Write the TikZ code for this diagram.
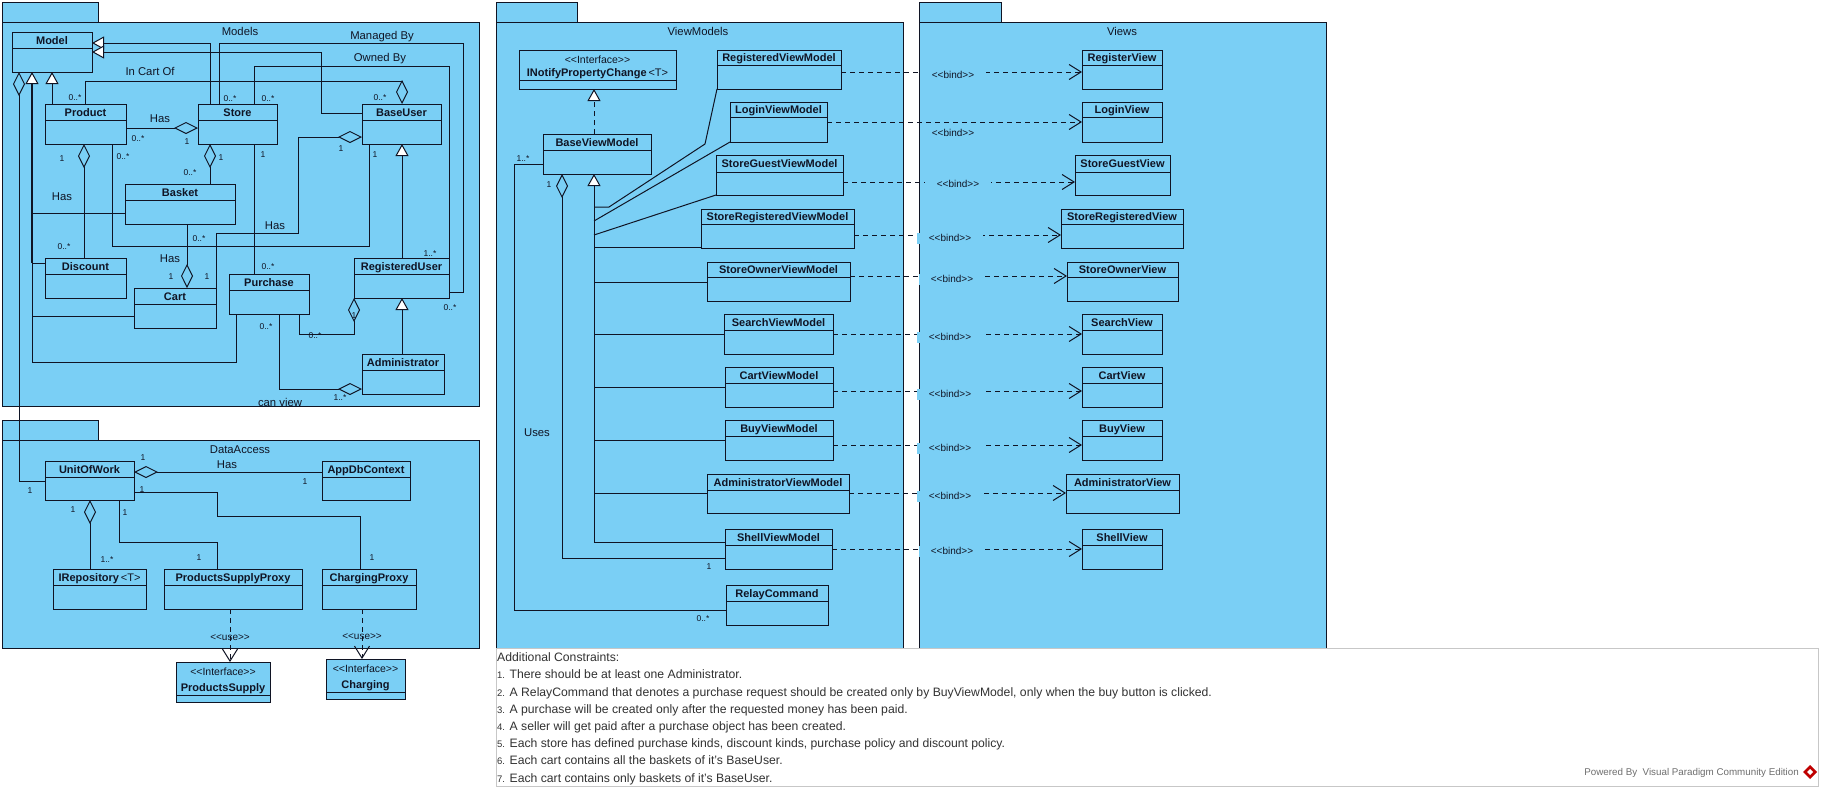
\documentclass[tikz,border=0pt]{standalone}
\usepackage{fontspec}
\setmainfont{Liberation Sans}
\usetikzlibrary{arrows.meta,calc}
\definecolor{pkg}{RGB}{122,207,245}
\definecolor{ink}{RGB}{16,20,36}
\definecolor{note}{RGB}{50,50,50}
\definecolor{vpgray}{RGB}{110,110,110}
\newcommand\LL{<\kern0pt<}
\newcommand\GG{>\kern0pt>}
\tikzset{
 cbox/.style={draw=ink,fill=pkg,line width=1pt,inner sep=0pt,outer sep=0pt,rectangle},
 pkgshape/.style={draw=ink,fill=pkg,line width=1pt},
 cname/.style={font=\fontsize{11}{13}\selectfont\bfseries,text=ink,inner sep=0pt,text height=8pt,text depth=0pt},
 stereo/.style={font=\fontsize{10.5}{12}\selectfont,text=ink,inner sep=0pt,text height=7.5pt,text depth=0pt},
 lbl/.style={font=\fontsize{11.3}{13}\selectfont,text=ink,inner sep=0pt,text height=8pt,text depth=0pt},
 mult/.style={font=\fontsize{8.5}{10}\selectfont,text=ink,inner sep=0pt,text height=6pt,text depth=0pt},
 bindlbl/.style={font=\fontsize{10}{12}\selectfont,text=ink,inner xsep=0pt,inner ysep=2pt,text height=7pt,text depth=0pt},
 gapfill/.style={fill=pkg,inner xsep=12pt},
 notetext/.style={font=\fontsize{12.2}{14}\selectfont,text=note,inner sep=0pt,anchor=base west},
 conn/.style={draw=ink,line width=1pt},
 gen/.style={conn,-{Triangle[length=12pt,width=13pt,fill=white]}},
 agg/.style={conn,{Diamond[open,length=24pt,width=12pt]}-},
 dep/.style={conn,dash pattern=on 5pt off 4pt,-{Straight Barb[length=12pt,width=15pt]}},
 real/.style={conn,dash pattern=on 5pt off 4pt,-{Triangle[length=12pt,width=13pt,fill=white]}},
}
% name, x1, y1, x2, y2, ydiv, text
\newcommand\umlcls[7]{%
 \node[cbox,minimum width={(#4-#2)*1pt},minimum height={(#5-#3)*1pt}] (#1) at ({(#2+#4)/2},{(#3+#5)/2}) {};
 \draw[ink,line width=1pt] (#2,#6) -- (#4,#6);
 \node[cname] (#1-name) at ({(#2+#4)/2},{(#3+#6)/2}) {#7};
}
\newcommand\umlifc[7]{%
 \node[cbox,minimum width={(#4-#2)*1pt},minimum height={(#5-#3)*1pt}] (#1) at ({(#2+#4)/2},{(#3+#5)/2}) {};
 \draw[ink,line width=1pt] (#2,#6) -- (#4,#6);
 \node[stereo] (#1-st) at ({(#2+#4)/2},{#3+9.5}) {\LL Interface\GG};
 \node[cname] (#1-name) at ({(#2+#4)/2},{#6-7.5}) {#7};
}
\begin{document}
\begin{tikzpicture}[x=1pt,y=-1pt]
\useasboundingbox (0,0) rectangle (1821,790);
\fill[white] (0,0) rectangle (1821,790);

% ---------- packages ----------
\draw[pkgshape] (2,2) rectangle (98,22);
\draw[pkgshape] (2,22) rectangle (479,406);
\draw[pkgshape] (2,420) rectangle (98,440);
\draw[pkgshape] (2,440) rectangle (479,648);
\draw[pkgshape] (496,2) rectangle (577,22);
\draw[pkgshape] (496,22) rectangle (903,648);
\draw[pkgshape] (919,2) rectangle (1001,22);
\draw[pkgshape] (919,22) rectangle (1326,648);
\node[lbl] (pModels) at (240,31) {Models};
\node[lbl] (pData) at (240,449) {DataAccess};
\node[lbl] (pVM) at (698,31) {ViewModels};
\node[lbl] (pViews) at (1122,31) {Views};

% constraints box
\draw[draw=black!22,fill=white,line width=0.8pt] (496,648.5) rectangle (1818,786);

% ---------- Models ----------
\umlcls{Model}{12}{32}{92}{72}{48}{Model}
\umlcls{Product}{45}{104}{126}{144}{120}{Product}
\umlcls{Store}{198}{104}{277}{144}{120}{Store}
\umlcls{BaseUser}{362}{104}{441}{144}{120}{BaseUser}
\umlcls{Basket}{125}{184}{235}{224}{200}{Basket}
\umlcls{Discount}{45}{258}{126}{298}{274}{Discount}
\umlcls{Cart}{134}{288}{216}{328}{304}{Cart}
\umlcls{Purchase}{229}{274}{309}{314}{290}{Purchase}
\umlcls{RegisteredUser}{354}{258}{449}{298}{274}{RegisteredUser}
\umlcls{Administrator}{362}{354}{444}{394}{370}{Administrator}

% ---------- DataAccess ----------
\umlcls{UnitOfWork}{45}{461}{134}{500}{477}{UnitOfWork}
\umlcls{AppDbContext}{322}{461}{410}{500}{477}{AppDbContext}
\umlcls{IRepository}{53}{569}{146}{609}{585}{IRepository{\mdseries\,<T>}}
\umlcls{ProductsSupplyProxy}{164}{569}{302}{609}{585}{ProductsSupplyProxy}
\umlcls{ChargingProxy}{322}{569}{416}{609}{585}{ChargingProxy}
\umlifc{ProductsSupply}{176}{662}{270}{702}{695}{ProductsSupply}
\umlifc{Charging}{326}{659}{405}{699}{692}{Charging}

% ---------- ViewModels ----------
\umlifc{INotify}{519}{50}{676}{89}{80}{INotifyPropertyChange{\mdseries\,<T>}}
\umlcls{BaseViewModel}{543}{134}{651}{174}{150}{BaseViewModel}
\umlcls{RegisteredViewModel}{717}{50}{841}{89}{65}{RegisteredViewModel}
\umlcls{LoginViewModel}{730}{102}{827}{142}{117}{LoginViewModel}
\umlcls{StoreGuestViewModel}{716}{155}{843}{195}{172}{StoreGuestViewModel}
\umlcls{StoreRegisteredViewModel}{701}{209}{854}{248}{224}{StoreRegisteredViewModel}
\umlcls{StoreOwnerViewModel}{707}{262}{850}{301}{277}{StoreOwnerViewModel}
\umlcls{SearchViewModel}{724}{314}{833}{354}{330}{SearchViewModel}
\umlcls{CartViewModel}{725}{367}{833}{407}{383}{CartViewModel}
\umlcls{BuyViewModel}{725}{420}{833}{460}{436}{BuyViewModel}
\umlcls{AdministratorViewModel}{707}{474}{849}{513}{490}{AdministratorViewModel}
\umlcls{ShellViewModel}{725}{529}{832}{569}{545}{ShellViewModel}
\umlcls{RelayCommand}{726}{585}{828}{625}{601}{RelayCommand}

% ---------- Views ----------
\umlcls{RegisterView}{1082}{50}{1162}{89}{65}{RegisterView}
\umlcls{LoginView}{1082}{102}{1162}{142}{117}{LoginView}
\umlcls{StoreGuestView}{1075}{155}{1170}{195}{172}{StoreGuestView}
\umlcls{StoreRegisteredView}{1061}{209}{1183}{248}{224}{StoreRegisteredView}
\umlcls{StoreOwnerView}{1067}{262}{1178}{301}{277}{StoreOwnerView}
\umlcls{SearchView}{1082}{314}{1162}{354}{330}{SearchView}
\umlcls{CartView}{1082}{367}{1162}{407}{383}{CartView}
\umlcls{BuyView}{1082}{420}{1162}{460}{436}{BuyView}
\umlcls{AdministratorView}{1066}{474}{1179}{513}{490}{AdministratorView}
\umlcls{ShellView}{1082}{529}{1162}{569}{545}{ShellView}

% ---------- Models connectors ----------
\draw[gen] ($(Store.north west)+(12,0)$) |- ($(Model.north east)+(0,11)$);
\draw[gen] ($(BaseUser.north west)+(0,9)$) -| (321,52) -- ($(Model.north east)+(0,20)$);
\draw[gen] ($(Product.north west)+(7,0)$) -- ($(Model.south west)+(40,0)$);
\draw[conn] ($(Basket.north west)+(0,29)$) -- (32,213);
\draw[conn] ($(Discount.north west)+(0,5)$) -- (32,263);
\draw[conn] ($(Cart.north west)+(0,28)$) -- (32,316);
\draw[gen] ($(Purchase.south west)+(7,0)$) -- (236,362) -- (32,362) -- ($(Model.south west)+(20,0)$);
\draw[ink,line width=2pt] (32,84) -- (32,263);
\draw[agg] ($(Model.south west)+(7,0)$) -- (19,481) -- ($(UnitOfWork.north west)+(0,20)$);
\draw[agg] ($(Store.north west)+(0,24)$) -- ($(Product.north east)+(0,24)$);
\draw[agg] ($(Store.south west)+(12,0)$) -- ($(Basket.north west)+(85,0)$);
\draw[agg] ($(BaseUser.north west)+(40,0)$) -- (402,81) -- (85,81) -- ($(Product.north west)+(40,0)$);
\draw[conn] ($(Store.north west)+(21,0)$) -- (219,43) -- (463,43) -- (463,292) -- ($(RegisteredUser.north east)+(0,34)$);
\draw[conn] ($(Store.north west)+(56,0)$) -- (254,66) -- (449,66) -- (RegisteredUser.north east);
\draw[agg] ($(BaseUser.north west)+(0,33)$) -- (298,137) -- (298,233) -- (216,233) -- (Cart.north east);
\draw[agg] ($(Cart.north west)+(53,0)$) -- ($(Basket.south west)+(62,0)$);
\draw[agg] ($(Product.south west)+(39,0)$) -- ($(Discount.north west)+(39,0)$);
\draw[conn] ($(Product.south west)+(67,0)$) -- (112,246) -- (369,246) -- ($(BaseUser.south west)+(7,0)$);
\draw[conn] ($(Store.south west)+(56,0)$) -- ($(Purchase.north west)+(25,0)$);
\draw[gen] ($(RegisteredUser.north west)+(48,0)$) -- ($(BaseUser.south west)+(40,0)$);
\draw[gen] ($(Administrator.north west)+(40,0)$) -- ($(RegisteredUser.south west)+(48,0)$);
\draw[agg] (RegisteredUser.south west) -- (354,334) -- (299,334) -- ($(Purchase.south west)+(70,0)$);
\draw[agg] ($(Administrator.north west)+(0,35)$) -- (279,389) -- ($(Purchase.south west)+(50,0)$);

\node[lbl] (l1) at (382,35) {Managed By};
\node[lbl] (l2) at (380,57) {Owned By};
\node[lbl] (l3) at (150,71) {In Cart Of};
\node[lbl] (l4) at (160,118) {Has};
\node[lbl] (l5) at (62,196) {Has};
\node[lbl] (l6) at (275,225) {Has};
\node[lbl] (l7) at (170,258) {Has};
\node[lbl] (l8) at (280,402) {can view};
\node[mult] at (138,138) {0..*};
\node[mult] at (187,141) {1};
\node[mult] at (221,157) {1};
\node[mult] at (190,172) {0..*};
\node[mult] at (75,97) {0..*};
\node[mult] at (380,97) {0..*};
\node[mult] at (230,98) {0..*};
\node[mult] at (268,98) {0..*};
\node[mult] at (341,148) {1};
\node[mult] at (62,158) {1};
\node[mult] at (123,156) {0..*};
\node[mult] at (263,154) {1};
\node[mult] at (375,154) {1};
\node[mult] at (199,238) {0..*};
\node[mult] at (64,246) {0..*};
\node[mult] at (430,253) {1..*};
\node[mult] at (171,276) {1};
\node[mult] at (207,276) {1};
\node[mult] at (268,266) {0..*};
\node[mult] at (450,307) {0..*};
\node[mult] at (354,315) {1};
\node[mult] at (266,326) {0..*};
\node[mult] at (315,335) {0..*};
\node[mult] at (340,397) {1..*};

% ---------- DataAccess connectors ----------
\draw[agg] ($(UnitOfWork.north east)+(0,11)$) -- ($(AppDbContext.north west)+(0,11)$);
\draw[agg] ($(UnitOfWork.south west)+(45,0)$) -- ($(IRepository.north west)+(37,0)$);
\draw[conn] ($(UnitOfWork.south west)+(74,0)$) -- (119,542) -- (217,542) -- ($(ProductsSupplyProxy.north west)+(53,0)$);
\draw[conn] ($(UnitOfWork.north east)+(0,31)$) -- (217,492) -- (217,516) -- (360,516) -- ($(ChargingProxy.north west)+(38,0)$);
\draw[dep] ($(ProductsSupplyProxy.south west)+(66,0)$) -- ($(ProductsSupply.north west)+(54,0)$);
\draw[dep] ($(ChargingProxy.south west)+(40,0)$) -- ($(Charging.north west)+(36,0)$);
\node[lbl] (l9) at (227,464) {Has};
\node[bindlbl] (u1) at (230,637) {\LL use\GG};
\node[bindlbl] (u2) at (362,636) {\LL use\GG};
\node[mult] at (143,457) {1};
\node[mult] at (305,481) {1};
\node[mult] at (30,490) {1};
\node[mult] at (142,489) {1};
\node[mult] at (73,509) {1};
\node[mult] at (125,512) {1};
\node[mult] at (199,557) {1};
\node[mult] at (372,557) {1};
\node[mult] at (107,559) {1..*};

% ---------- ViewModels connectors ----------
\draw[real] ($(BaseViewModel.north west)+(51,0)$) -- ($(INotify.south west)+(75,0)$);
\coordinate (trunk) at (594,542);
\draw[gen] (trunk) -- ($(BaseViewModel.south west)+(51,0)$);
\draw[conn] (RegisteredViewModel.south west) -- (705,144) -- (609,207) -- (594,207);
\draw[conn] (LoginViewModel.south west) -- (594,221);
\draw[conn] (StoreGuestViewModel.south west) -- (594,235);
\draw[conn] ($(StoreRegisteredViewModel.north west)+(0,38)$) -- (594,247);
\draw[conn] ($(StoreOwnerViewModel.north west)+(0,20)$) -- (594,282);
\draw[conn] ($(SearchViewModel.north west)+(0,20)$) -- (594,334);
\draw[conn] ($(CartViewModel.north west)+(0,20)$) -- (594,387);
\draw[conn] ($(BuyViewModel.north west)+(0,20)$) -- (594,440);
\draw[conn] ($(AdministratorViewModel.north west)+(0,19)$) -- (594,493);
\draw[conn] ($(ShellViewModel.north west)+(0,13)$) -- (trunk);
\draw[agg] ($(BaseViewModel.south west)+(19,0)$) -- (562,558) -- ($(ShellViewModel.north west)+(0,29)$);
\draw[conn] ($(BaseViewModel.north west)+(0,30)$) -- (514,164) -- (514,610) -- ($(RelayCommand.north west)+(0,25)$);
\node[mult] at (523,158) {1..*};
\node[mult] at (549,184) {1};
\node[lbl] (l10) at (537,432) {Uses};
\node[mult] at (709,566) {1};
\node[mult] at (703,618) {0..*};

% ---------- bind dependencies ----------
\draw[dep] ($(RegisteredViewModel.north east)+(0,22)$) -- ($(RegisterView.north west)+(0,22)$);
\draw[dep] ($(LoginViewModel.north east)+(0,20)$) -- ($(LoginView.north west)+(0,20)$);
\draw[dep] ($(StoreGuestViewModel.north east)+(0,27)$) -- ($(StoreGuestView.north west)+(0,27)$);
\draw[dep] ($(StoreRegisteredViewModel.north east)+(0,26)$) -- ($(StoreRegisteredView.north west)+(0,26)$);
\draw[dep] ($(StoreOwnerViewModel.north east)+(0,14)$) -- ($(StoreOwnerView.north west)+(0,14)$);
\draw[dep] ($(SearchViewModel.north east)+(0,20)$) -- ($(SearchView.north west)+(0,20)$);
\draw[dep] ($(CartViewModel.north east)+(0,24)$) -- ($(CartView.north west)+(0,24)$);
\draw[dep] ($(BuyViewModel.north east)+(0,25)$) -- ($(BuyView.north west)+(0,25)$);
\draw[dep] ($(AdministratorViewModel.north east)+(0,19)$) -- ($(AdministratorView.north west)+(0,19)$);
\draw[dep] ($(ShellViewModel.north east)+(0,20)$) -- ($(ShellView.north west)+(0,20)$);
\node[bindlbl,gapfill] (b1) at (953,75) {\LL bind\GG};
\node[bindlbl] (b2) at (953,133) {\LL bind\GG};
\node[bindlbl,gapfill] (b3) at (958,184) {\LL bind\GG};
\node[bindlbl,gapfill] (b4) at (950,238) {\LL bind\GG};
\node[bindlbl,gapfill] (b5) at (952,279) {\LL bind\GG};
\node[bindlbl,gapfill] (b6) at (950,337) {\LL bind\GG};
\node[bindlbl,gapfill] (b7) at (950,394) {\LL bind\GG};
\node[bindlbl,gapfill] (b8) at (950,448) {\LL bind\GG};
\node[bindlbl,gapfill] (b9) at (950,496) {\LL bind\GG};
\node[bindlbl,gapfill] (b10) at (952,551) {\LL bind\GG};

% ---------- constraints ----------
\newcommand\nr[1]{{\fontsize{9.5}{11}\selectfont #1}}
\node[notetext] (c0) at (497,661.5) {Additional Constraints:};
\node[notetext] (c1) at (497,678.7) {\nr{1.} There should be at least one Administrator.};
\node[notetext] (c2) at (497,696.0) {\nr{2.} A RelayCommand that denotes a purchase request should be created only by BuyViewModel, only when the buy button is clicked.};
\node[notetext] (c3) at (497,713.2) {\nr{3.} A purchase will be created only after the requested money has been paid.};
\node[notetext] (c4) at (497,730.5) {\nr{4.} A seller will get paid after a purchase object has been created.};
\node[notetext] (c5) at (497,747.7) {\nr{5.} Each store has defined purchase kinds, discount kinds, purchase policy and discount policy.};
\node[notetext] (c6) at (497,764.9) {\nr{6.} Each cart contains all the baskets of it's BaseUser.};
\node[notetext] (c7) at (497,782.2) {\nr{7.} Each cart contains only baskets of it's BaseUser.};

\node[font=\fontsize{9.8}{11}\selectfont,text=vpgray,inner sep=0pt,anchor=east] (vp) at (1799,773) {Powered By\ \ Visual Paradigm Community Edition};
\fill[red!75!black] (1810,765) -- (1817,772) -- (1810,779) -- (1803,772) -- cycle;
\fill[white] (1810,769) -- (1813,772) -- (1810,775) -- (1807,772) -- cycle;
\end{tikzpicture}
\end{document}
